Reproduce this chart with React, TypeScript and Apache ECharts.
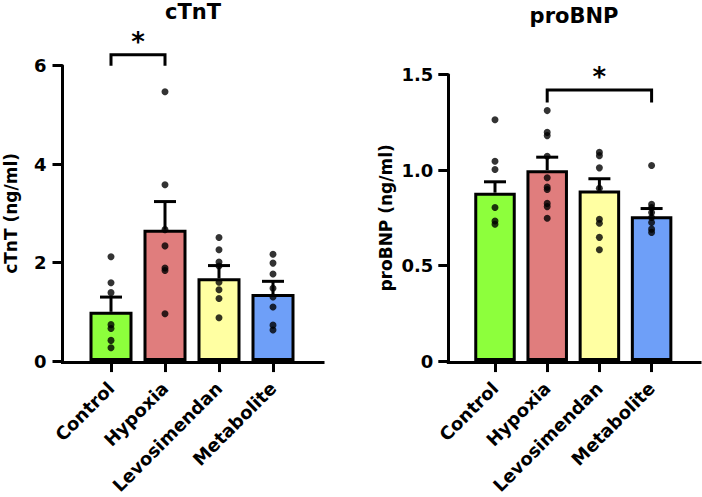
import React, { useEffect, useRef } from "react";
import * as echarts from "echarts";

// Treatment groups and bar fills
const groups = ["Control", "Hypoxia", "Levosimendan", "Metabolite"];
const barColors = ["#8DFF3C", "#E07D7D", "#FFFFA2", "#6E9FF8"];

// cTnT (ng/ml): group means, SEM and individual measurements
const ctntMean = [1.0, 2.67, 1.68, 1.36];
const ctntSem = [0.3, 0.57, 0.26, 0.26];
const ctntPoints = [
  [2.12, 1.59, 1.39, 0.74, 0.66, 0.42, 0.27],
  [5.47, 3.58, 2.67, 2.34, 1.89, 1.84, 0.96],
  [2.51, 2.26, 2.01, 1.93, 1.6, 1.45, 1.27, 0.88],
  [2.17, 1.99, 1.77, 1.48, 1.3, 1.1, 0.73, 0.63],
];
const ctntTicks = [0, 6, 2];
// [from group, to group, leg bottom, bracket top]
const ctntBracket = [0, 1, 6.0, 6.22];

// proBNP (ng/ml)
const bnpMean = [0.882, 1.0, 0.894, 0.759];
const bnpSem = [0.057, 0.068, 0.061, 0.04];
const bnpPoints = [
  [1.264, 1.047, 1.003, 0.804, 0.734, 0.717],
  [1.312, 1.198, 1.181, 1.073, 0.96, 0.911, 0.899, 0.826, 0.809, 0.748],
  [1.094, 1.076, 1.012, 0.905, 0.743, 0.722, 0.648, 0.583],
  [1.024, 0.821, 0.804, 0.778, 0.752, 0.726, 0.691, 0.674],
];
const bnpTicks = [0, 1.5, 0.5];
const bnpBracket = [1, 3, 1.354, 1.42];

const FONT = '"DejaVu Sans", sans-serif';
const BLACK = "#000000";

function panel(
  gBar: number,
  mean: number[],
  sem: number[],
  points: number[][],
  bracket: number[],
  barWidth: number,
  capHalf: number
) {
  const bars = {
    type: "bar",
    xAxisIndex: gBar,
    yAxisIndex: gBar,
    barWidth,
    data: mean.map((v, i) => ({ value: v, itemStyle: { color: barColors[i] } })),
    itemStyle: { borderColor: BLACK, borderWidth: 3 },
    z: 2,
  };
  const errors = {
    type: "custom",
    xAxisIndex: gBar,
    yAxisIndex: gBar,
    clip: false,
    z: 3,
    encode: { x: 0, y: 1 },
    data: mean.map((m, i) => [i, m, sem[i]]),
    renderItem: (_p: any, api: any) => {
      const x = api.value(0);
      const m = api.value(1);
      const s = api.value(2);
      const base = api.coord([x, m]);
      const top = api.coord([x, m + s]);
      const st = { stroke: BLACK, lineWidth: 3 };
      return {
        type: "group",
        children: [
          { type: "line", shape: { x1: base[0], y1: base[1], x2: top[0], y2: top[1] }, style: st },
          { type: "line", shape: { x1: top[0] - capHalf, y1: top[1], x2: top[0] + capHalf, y2: top[1] }, style: st },
        ],
      };
    },
  };
  const dots = {
    type: "scatter",
    xAxisIndex: gBar,
    yAxisIndex: gBar,
    symbol: "circle",
    symbolSize: 7,
    itemStyle: { color: BLACK },
    z: 4,
    data: points.flatMap((arr, i) => arr.map((v) => [i, v])),
  };
  const sig = {
    type: "custom",
    xAxisIndex: gBar,
    yAxisIndex: gBar,
    clip: false,
    z: 5,
    encode: { x: [0, 1], y: [2, 3] },
    data: [bracket],
    renderItem: (_p: any, api: any) => {
      const a = api.coord([api.value(0), api.value(2)]);
      const aTop = api.coord([api.value(0), api.value(3)]);
      const b = api.coord([api.value(1), api.value(2)]);
      const bTop = api.coord([api.value(1), api.value(3)]);
      return {
        type: "group",
        children: [
          {
            type: "polyline",
            shape: { points: [a, aTop, bTop, b] },
            style: { stroke: BLACK, lineWidth: 3, fill: "none" },
          },
          {
            type: "text",
            style: {
              text: "*",
              x: (aTop[0] + bTop[0]) / 2,
              y: aTop[1] - 13,
              align: "center",
              verticalAlign: "middle",
              font: `bold 26px ${FONT}`,
              fill: BLACK,
            },
          },
        ],
      };
    },
  };
  return [bars, errors, dots, sig];
}

function catAxis(gridIndex: number) {
  return {
    type: "category",
    gridIndex,
    data: groups,
    axisLine: { show: false },
    axisTick: { show: true, alignWithLabel: true, length: 11, lineStyle: { color: BLACK, width: 3 } },
    axisLabel: {
      rotate: 45,
      margin: 24,
      color: BLACK,
      fontFamily: FONT,
      fontWeight: "bold",
      fontSize: 18,
      interval: 0,
    },
    splitLine: { show: false },
  };
}

function baseAxis(gridIndex: number) {
  return {
    type: "value",
    gridIndex,
    min: 0,
    max: 1,
    axisLine: { show: true, lineStyle: { color: BLACK, width: 3, cap: "square" } },
    axisTick: { show: false },
    axisLabel: { show: false },
    splitLine: { show: false },
  };
}

function valAxis(gridIndex: number, ticks: number[], offset: number, name: string, nameGap: number, margin: number) {
  return {
    type: "value",
    gridIndex,
    min: ticks[0],
    max: ticks[1],
    interval: ticks[2],
    offset,
    name,
    nameLocation: "middle",
    nameGap,
    nameTextStyle: { color: BLACK, fontFamily: FONT, fontWeight: "bold", fontSize: 17 },
    axisLine: { show: true, lineStyle: { color: BLACK, width: 3 } },
    axisTick: { show: true, length: 10, lineStyle: { color: BLACK, width: 3 } },
    axisLabel: {
      color: BLACK,
      fontFamily: FONT,
      fontWeight: "bold",
      fontSize: 18,
      margin,
      formatter: (v: number) => (v === 0 ? "0" : ticks[2] < 1 ? v.toFixed(1) : String(v)),
    },
    splitLine: { show: false },
  };
}

function hiddenAxis(gridIndex: number) {
  return { type: "value", gridIndex, min: 0, max: 1, show: false };
}

export default function App() {
  const ref = useRef<HTMLDivElement>(null);

  useEffect(() => {
    if (!ref.current) return;
    const chart = echarts.init(ref.current, null, { renderer: "svg" });
    chart.setOption({
      animation: false,
      backgroundColor: "#ffffff",
      grid: [
        { left: 84, width: 216, top: 65.7, height: 297 },
        { left: 62.5, width: 260.5, top: 65.7, height: 297 },
        { left: 468.9, width: 208.8, top: 74.7, height: 288 },
        { left: 448.3, width: 251.7, top: 74.7, height: 288 },
      ],
      xAxis: [catAxis(0), baseAxis(1), catAxis(2), baseAxis(3)],
      yAxis: [
        valAxis(0, ctntTicks, 21.5, "cTnT (ng/ml)", 43, 16),
        hiddenAxis(1),
        valAxis(2, bnpTicks, 20.6, "proBNP (ng/ml)", 54, 15),
        hiddenAxis(3),
      ],
      graphic: [
        {
          type: "text",
          x: 193,
          y: 11.7,
          style: { text: "cTnT", align: "center", verticalAlign: "middle", font: `bold 21px ${FONT}`, fill: BLACK },
        },
        {
          type: "text",
          x: 574,
          y: 15.8,
          style: { text: "proBNP", align: "center", verticalAlign: "middle", font: `bold 21px ${FONT}`, fill: BLACK },
        },
      ],
      series: [
        ...panel(0, ctntMean, ctntSem, ctntPoints, ctntBracket, 43, 11),
        ...panel(2, bnpMean, bnpSem, bnpPoints, bnpBracket, 41.5, 11),
      ],
    });
    return () => chart.dispose();
  }, []);

  return <div ref={ref} style={{ position: "fixed", left: 0, top: 0, width: 702, height: 497 }} />;
}
